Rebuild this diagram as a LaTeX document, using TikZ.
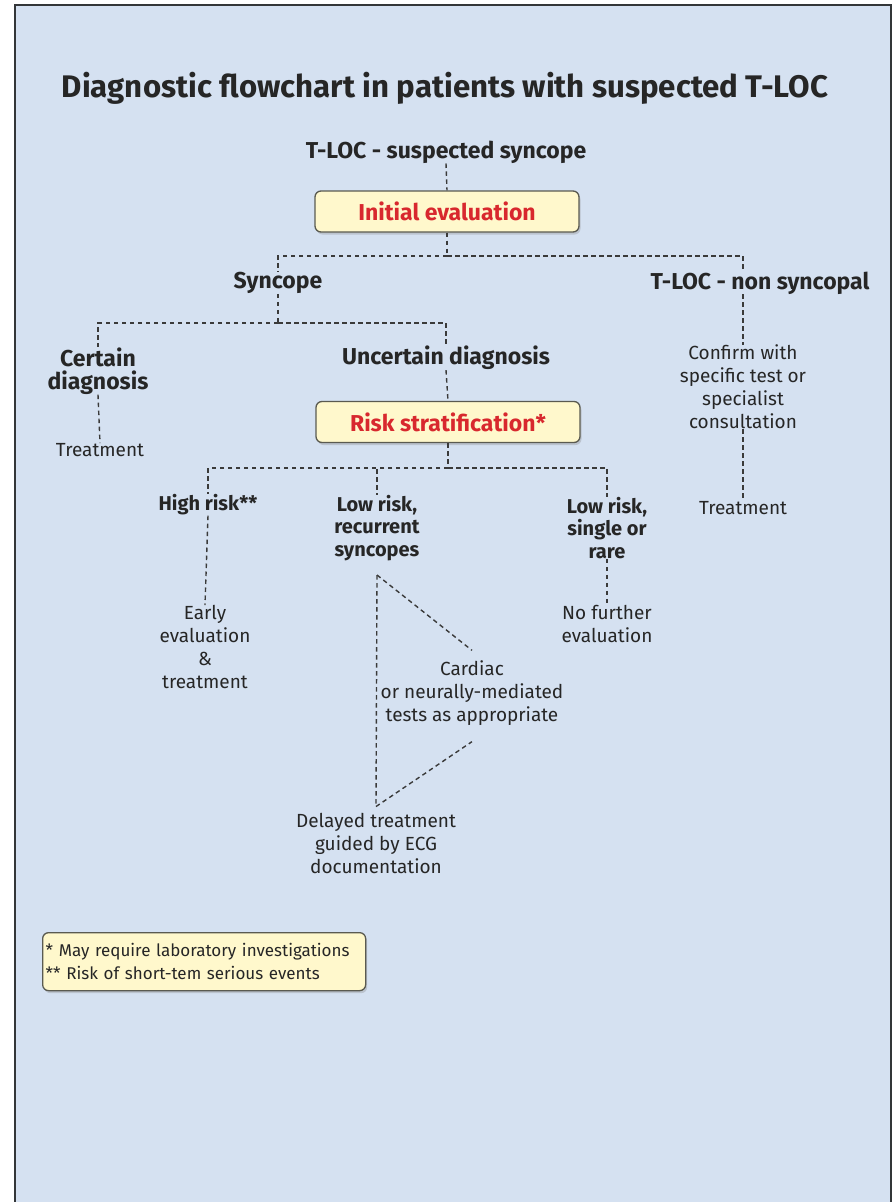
\documentclass[tikz,border=0pt]{standalone}
\usepackage{fontspec}
\setmainfont{Fira Sans}
\usetikzlibrary{shadows}
\definecolor{bg}{HTML}{D5E1F1}
\definecolor{boxfill}{HTML}{FFF8CC}
\definecolor{boxdraw}{HTML}{5A5A50}
\definecolor{redtxt}{HTML}{D8282E}
\definecolor{txt}{HTML}{262626}
\definecolor{dashc}{HTML}{3A3A3A}
\definecolor{framec}{HTML}{333638}
\begin{document}
\begin{tikzpicture}[x=1pt,y=-1pt,
 dl/.style={draw=dashc, line width=1.4pt, dash pattern=on 4.5pt off 3.5pt},
 head/.style={font=\fontsize{23}{23}\selectfont\bfseries, text=txt, align=center, inner sep=0pt},
 sub/.style={font=\fontsize{20}{22.5}\selectfont\bfseries, text=txt, align=center, inner sep=0pt},
 body/.style={font=\fontsize{19}{23}\selectfont, text=txt, align=center, inner sep=0pt},
 ybox/.style={draw=boxdraw, line width=1.3pt, fill=boxfill, rounded corners=6pt,
   drop shadow={opacity=0.3, shadow xshift=1.5pt, shadow yshift=-2.5pt}},
 redbox/.style={ybox, minimum width=264pt, minimum height=41pt, text=redtxt,
   font=\fontsize{23}{24}\selectfont\bfseries, inner sep=0pt}
]
\useasboundingbox (0,0) rectangle (893,1202);
\fill[white] (0,0) rectangle (893,1202);
\fill[bg] (15,5) rectangle (891,1202);
\draw[framec, line width=2pt] (15,1202) -- (15,5) -- (891,5) -- (891,1202);

\node[font=\fontsize{31.2}{34}\selectfont\bfseries, text=txt, inner sep=0pt] (title) at (445,88) {Diagnostic flowchart in patients with suspected T-LOC};

\node[head] (tsus) at (446,152) {T-LOC - suspected syncope};
\node[redbox] (init) at (447,211.5) {Initial evaluation};
\coordinate (j1) at (447,256);
\node[head] (syn) at (278,283) {Syncope};
\node[head] (nonsyn) at (760,283) {T-LOC - non syncopal};
\coordinate (ns1) at (743,270);
\node[body] (confirm) at (743,387) {Confirm with\\specific test or\\specialist\\consultation};
\node[body] (treat2) at (743,508) {Treatment};

\coordinate (j2) at (278,323);
\node[head] (cert) at (98,371) {Certain\\diagnosis};
\node[head] (uncert) at (446,358) {Uncertain diagnosis};
\node[body] (treat1) at (100,450) {Treatment};
\node[redbox] (risk) at (448,422) {Risk stratification*};
\coordinate (j3) at (448,468);

\node[sub] (high) at (208,505) {High risk**};
\node[sub] (recur) at (377,528) {Low risk,\\recurrent\\syncopes};
\node[sub] (rare) at (607,528) {Low risk,\\single or\\rare};
\node[body] (early) at (205,647) {Early\\evaluation\\\&\\treatment};
\node[body] (nofurther) at (607,624) {No further\\evaluation};
\node[body] (cardiac) at (472,693) {Cardiac\\or neurally-mediated\\tests as appropriate};
\node[body] (delayed) at (376,843) {Delayed treatment\\guided by ECG\\documentation};
\coordinate (rc) at (377,575);

\node[ybox, anchor=north west, minimum width=323pt, minimum height=58pt, align=left,
  font=\fontsize{17}{23}\selectfont, text=txt, inner xsep=3pt, inner ysep=0pt, text width=317pt] (note) at (42,932)
  {* May require laboratory investigations\\{}** Risk of short-tem serious events};

\draw[dl] (tsus.south) -- (init.north);
\draw[dl] (init.south) -- (j1);
\draw[dl] (j1) -| (syn.north);
\draw[dl] (j1) -| (ns1);
\draw[dl] (nonsyn.south -| confirm.north) -- (confirm.north);
\draw[dl] (confirm.south) -- (treat2.north);
\draw[dl] (syn.south) -- (j2);
\draw[dl] (j2) -| (cert.north);
\draw[dl] (j2) -| (uncert.north);
\draw[dl] (cert.south) -- (treat1.north);
\draw[dl] (uncert.south) -- (risk.north);
\draw[dl] (risk.south) -- (j3);
\draw[dl] (j3) -| (high.north);
\draw[dl] (j3) -| (recur.north);
\draw[dl] (j3) -| (rare.north);
\draw[dl] (high.south) -- (early.north);
\draw[dl] (rare.south) -- (nofurther.north);
\draw[dl] (rc) -- ([yshift=6pt]delayed.north);
\draw[dl] (rc) -- ([yshift=10pt]cardiac.north);
\draw[dl] ([yshift=6pt]delayed.north) -- ([yshift=-16pt]cardiac.south);
\end{tikzpicture}
\end{document}
